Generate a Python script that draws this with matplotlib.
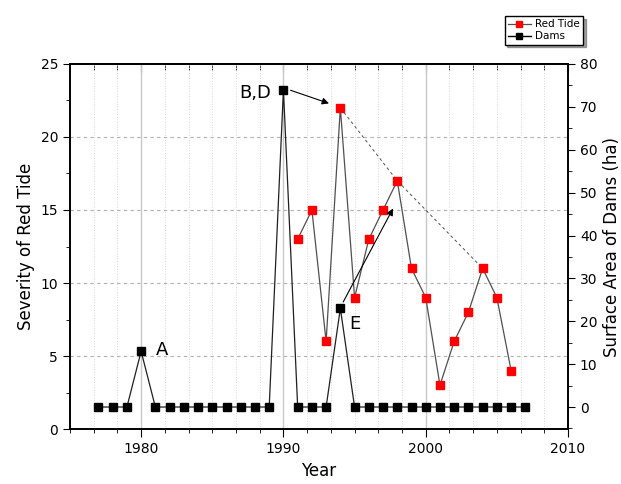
import matplotlib
matplotlib.use("Agg")
import matplotlib.pyplot as plt
from matplotlib.ticker import MultipleLocator, NullFormatter
from matplotlib.lines import Line2D

# data
dam_years = list(range(1977, 2008))
dam_area = [0, 0, 0, 13, 0, 0, 0, 0, 0, 0, 0, 0, 0, 74, 0, 0, 0, 23, 0, 0,
            0, 0, 0, 0, 0, 0, 0, 0, 0, 0, 0]

tide_years = list(range(1991, 2007))
tide_severity = [13, 15, 6, 22, 9, 13, 15, 17, 11, 9, 3, 6, 8, 11, 9, 4]

peak_years = [1994, 1998, 2004]
peak_severity = [22, 17, 11]

fig = plt.figure(figsize=(6.21, 4.84), dpi=100)
ax = fig.add_axes([0.1127, 0.1136, 0.802, 0.7542])
ax2 = ax.twinx()

# grid
ax.set_xlim(1975, 2010)
ax.set_ylim(0, 25)
ax.xaxis.set_major_locator(MultipleLocator(10))
ax.xaxis.set_minor_locator(MultipleLocator(10 / 6))
ax.yaxis.set_major_locator(MultipleLocator(5))
ax.yaxis.set_minor_locator(MultipleLocator(2.5))
ax.grid(which="major", axis="x", color="#c8c8c8", lw=1.0, ls="-")
ax.grid(which="minor", axis="x", color="#d8d8d8", lw=0.7, ls=":")
ax.grid(which="major", axis="y", color="#b0b0b0", lw=0.8, ls=(0, (3, 3)))
ax.set_axisbelow(True)

# red tide
ax.plot(tide_years, tide_severity, color="#505050", lw=0.9, marker="s",
        ms=5.8, mfc="red", mec="red", zorder=3)
ax.plot(peak_years, peak_severity, color="#505050", lw=0.7,
        ls=(0, (3, 3)), zorder=2)

# dams
ax2.plot(dam_years, dam_area, color="#202020", lw=0.9, marker="s", ms=5.8,
         mfc="black", mec="black", zorder=3)
ax2.set_ylim(-5.13, 80)
ax2.yaxis.set_major_locator(MultipleLocator(10))
ax2.yaxis.set_minor_locator(MultipleLocator(5))

# annotations
ax.text(1981.0, 5.4, "A", fontsize=13, va="center", ha="left")
ax.text(1989.1, 23.0, "B,D", fontsize=13, va="center", ha="right")
ax.text(1994.6, 7.2, "E", fontsize=13, va="center", ha="left")
ax.annotate("", xy=(1993.2, 22.3), xytext=(1990.5, 23.2),
            arrowprops=dict(arrowstyle="-|>", color="black", lw=0.8,
                            mutation_scale=10, shrinkA=0, shrinkB=0))
ax.annotate("", xy=(1997.7, 15.1), xytext=(1994.2, 8.7),
            arrowprops=dict(arrowstyle="-|>", color="black", lw=0.8,
                            mutation_scale=10, shrinkA=0, shrinkB=0))

# ticks & spines
for a in (ax, ax2):
    for s in a.spines.values():
        s.set_linewidth(1.2)
ax.tick_params(axis="x", which="both", direction="out", labelsize=10)
ax.tick_params(axis="x", which="major", length=6)
ax.tick_params(axis="x", which="minor", length=3)
ax.tick_params(axis="y", which="major", length=5, labelsize=10)
ax.tick_params(axis="y", which="minor", length=3)
ax2.tick_params(axis="y", which="major", length=5, labelsize=10)
ax2.tick_params(axis="y", which="minor", length=3)

top = ax.secondary_xaxis("top")
top.xaxis.set_major_locator(MultipleLocator(10))
top.xaxis.set_minor_locator(MultipleLocator(10 / 6))
top.xaxis.set_major_formatter(NullFormatter())
top.tick_params(which="both", direction="in")
top.tick_params(which="major", length=6)
top.tick_params(which="minor", length=4)
top.spines["top"].set_linewidth(1.2)

ax.set_xlabel("Year", fontsize=12)
ax.set_ylabel("Severity of Red Tide", fontsize=12)
ax2.set_ylabel("Surface Area of Dams (ha)", fontsize=12)

handles = [
    Line2D([], [], color="#505050", lw=0.9, marker="s", ms=5,
           mfc="red", mec="red"),
    Line2D([], [], color="black", lw=1.0, marker="s", ms=5,
           mfc="black", mec="black"),
]
fig.legend(handles, ["Red Tide", "Dams"], loc="upper right",
           bbox_to_anchor=(588 / 621, 1 - 11 / 484), fontsize=7.5,
           frameon=True, fancybox=False, shadow=True, edgecolor="black",
           handlelength=2.2, borderpad=0.3, labelspacing=0.2,
           handletextpad=0.4)

fig.savefig("out.png", dpi=100)
